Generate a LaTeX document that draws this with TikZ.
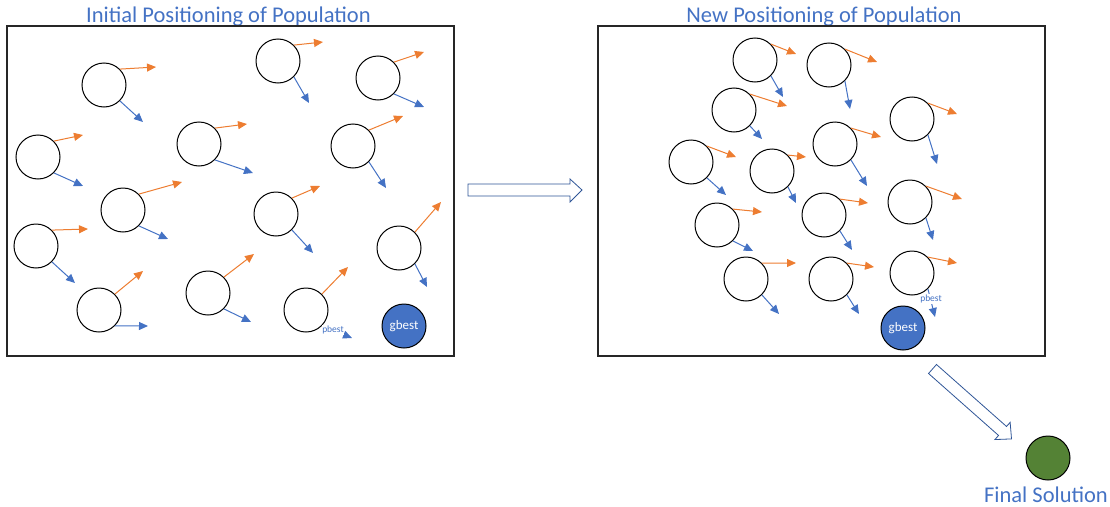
\documentclass[tikz,border=0pt]{standalone}
\usepackage{fontspec}
\setmainfont{Carlito}
\usetikzlibrary{arrows.meta}
\definecolor{accorange}{HTML}{ED7D31}
\definecolor{accblue}{HTML}{4472C4}
\definecolor{outlineblue}{HTML}{2F5597}
\definecolor{solgreen}{HTML}{548235}
\definecolor{framegray}{HTML}{262626}
\tikzset{
  frame/.style={draw=framegray,line width=1.2pt},
  particle/.style={circle,draw=black,line width=1pt,minimum size=44pt,inner sep=0pt},
  best/.style={particle,fill=accblue,text=white,font=\fontsize{13}{13}\selectfont},
  velocity/.style={draw=accorange,line width=1pt,-{Triangle[length=9pt,width=8pt]}},
  pull/.style={draw=accblue,line width=1pt,-{Triangle[length=9pt,width=8pt]}},
  pbestlabel/.style={fill=white,inner sep=0.6pt,text=accblue,font=\fontsize{9.5}{9.5}\selectfont},
  heading/.style={anchor=base,text=accblue,font=\fontsize{22.5}{22.5}\selectfont},
  blockarrow/.style={draw=outlineblue,fill=white,line width=0.8pt,line join=miter},
}
% particle: name, centre, tip of velocity arrow, tip of pull arrow
\newcommand\particleat[4]{%
  \node[particle] (#1) at (#2) {};
  \draw[velocity] (#1.45) -- (#3);
  \draw[pull] (#1.-45) -- (#4);
}
\begin{document}
\begin{tikzpicture}[x=1pt,y=-1pt]
\useasboundingbox (0,0) rectangle (1110,506);

% ---- initial population ----
\node[heading] (t1) at (228.5,23) {Initial Positioning of Population};
\draw[frame] (7,26) rectangle (454,356);
\particleat{a1}{104,85}{156,67}{143,122}
\particleat{a2}{278,61}{323,42}{309,103}
\particleat{a3}{378,78}{424,52}{424,107}
\particleat{a4}{38,157}{83,135}{83,186}
\particleat{a5}{199,144}{247,124}{253,173}
\particleat{a6}{353,146}{403,116}{386,188}
\particleat{a7}{123,210}{182,182}{168,239}
\particleat{a8}{276,214}{320,186}{313,253}
\particleat{a9}{36,246}{88,229}{75,283}
\particleat{a10}{399,248}{441,202}{427,287}
\particleat{a11}{99,310}{143,271}{148,326}
\particleat{a12}{208,293}{254,254}{251,322}
\particleat{a13}{306,310}{348,267}{352,338}
\node[pbestlabel] (pb1) at (333,330) {pbest};
\node[best] (g1) at (404,326) {gbest};

% ---- step arrow ----
\draw[blockarrow] (468,184) -- (570,184) -- (570,179) -- (582,190)
  -- (570,202) -- (570,196) -- (468,196) -- cycle;

% ---- new population ----
\node[heading] (t2) at (824,23) {New Positioning of Population};
\draw[frame] (598,26) rectangle (1045,356);
\particleat{b1}{755,60}{796,54}{783,97}
\particleat{b2}{829,65}{877,62}{850,109}
\particleat{b3}{734,110}{787,106}{762,139}
\particleat{b4}{912,119}{957,114}{937,164}
\particleat{b5}{835,144}{881,137}{867,186}
\particleat{b6}{691,162}{736,157}{726,195}
\particleat{b7}{772,171}{806,157}{796,203}
\particleat{b8}{910,202}{962,199}{933,240}
\particleat{b9}{824,215}{868,203}{852,250}
\particleat{b10}{717,225}{762,212}{753,251}
\particleat{b11}{746,279}{796,263}{779,314}
\particleat{b12}{831,279}{874,267}{859,314}
\particleat{b13}{912,273}{957,263}{935,317}
\node[pbestlabel] (pb2) at (931,299) {pbest};
\node[best] (g2) at (903,328) {gbest};

% ---- convergence arrow and final solution ----
\begin{scope}[shift={(932.5,369)},rotate=-41.5]
  \draw[blockarrow] (0,-6) -- (93.5,-6) -- (93.5,-11.5) -- (105.5,0)
    -- (93.5,11.5) -- (93.5,6) -- (0,6) -- cycle;
\end{scope}
\node[particle,fill=solgreen] (sol) at (1048,458) {};
\node[heading] (t3) at (1046,502) {Final Solution};
\end{tikzpicture}
\end{document}
